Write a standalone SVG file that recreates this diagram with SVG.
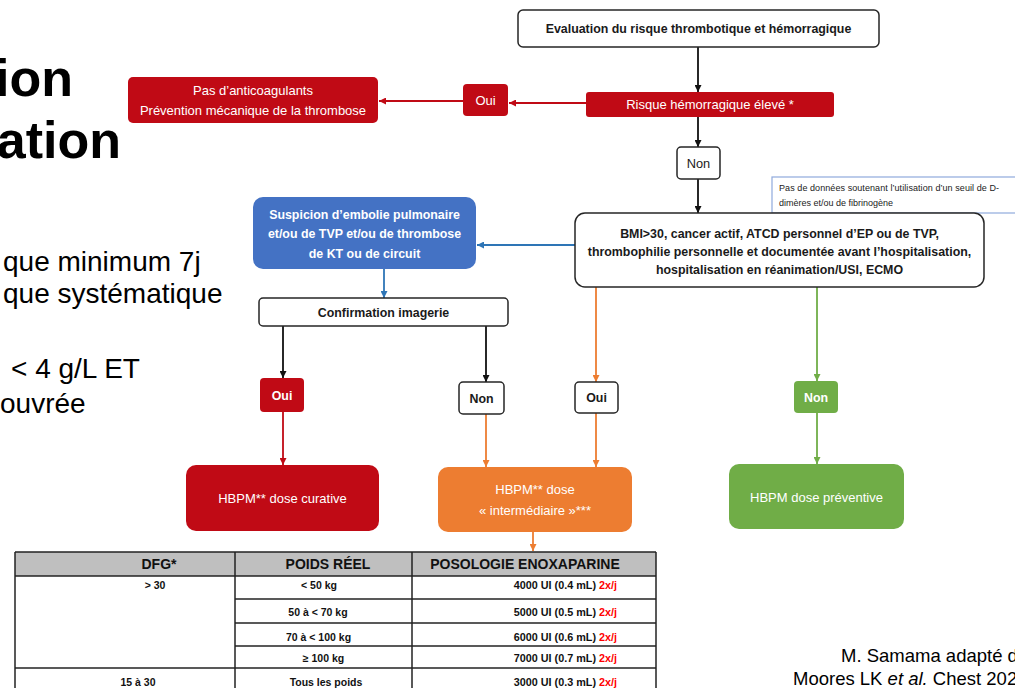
<svg xmlns="http://www.w3.org/2000/svg" width="1015" height="688" viewBox="0 0 1015 688">
<style>
text{font-family:"Liberation Sans",Arial,sans-serif}
.t{fill:#000}
.big{font-size:52px;font-weight:bold}
.body{font-size:28px}
.bl{font-size:12.4px;font-weight:bold;fill:#1a1a1a;text-anchor:middle}
.rg{font-size:13px;fill:#fff;text-anchor:middle}
.wb{font-size:12.4px;font-weight:bold;fill:#fff;text-anchor:middle}
.dk{font-size:12.8px;fill:#1a1a1a;text-anchor:middle}
.wbox{fill:#fff;stroke:#262626;stroke-width:1.5}
.red{fill:#C00A15}
.blue{fill:#4472C4}
.ora{fill:#ED7D31}
.grn{fill:#70AD47}
.cn{fill:none;stroke-width:1.8}
.th{font-size:14px;font-weight:bold;fill:#111;text-anchor:middle}
.td{font-size:10.5px;font-weight:bold;fill:#111;text-anchor:middle}
.tp{font-size:10.8px;font-weight:bold;fill:#111;text-anchor:end}
.r2{fill:#FF0000}
.tl{stroke:#222;stroke-width:1.5}
</style>
<defs>
<marker id="mk" viewBox="0 0 10 10" refX="10" refY="5" markerWidth="7" markerHeight="7" markerUnits="userSpaceOnUse" orient="auto"><path d="M0,0L10,5L0,10z" fill="#111"/></marker>
<marker id="mr" viewBox="0 0 10 10" refX="10" refY="5" markerWidth="7" markerHeight="7" markerUnits="userSpaceOnUse" orient="auto"><path d="M0,0L10,5L0,10z" fill="#C00A15"/></marker>
<marker id="mb" viewBox="0 0 10 10" refX="10" refY="5" markerWidth="7" markerHeight="7" markerUnits="userSpaceOnUse" orient="auto"><path d="M0,0L10,5L0,10z" fill="#2E75B6"/></marker>
<marker id="mo" viewBox="0 0 10 10" refX="10" refY="5" markerWidth="7" markerHeight="7" markerUnits="userSpaceOnUse" orient="auto"><path d="M0,0L10,5L0,10z" fill="#ED7D31"/></marker>
<marker id="mg" viewBox="0 0 10 10" refX="10" refY="5" markerWidth="7" markerHeight="7" markerUnits="userSpaceOnUse" orient="auto"><path d="M0,0L10,5L0,10z" fill="#70AD47"/></marker>
</defs>
<rect width="1015" height="688" fill="#fff"/>

<g id="slide-text">
<text class="t big" x="73" y="96" text-anchor="end">ion</text>
<text class="t big" x="121" y="158" text-anchor="end">ation</text>
<text class="t body" x="3" y="271">que minimum 7j</text>
<text class="t body" x="3" y="303">que systématique</text>
<text class="t body" x="11" y="378">&lt; 4 g/L ET</text>
<text class="t body" x="0" y="413">ouvrée</text>
<text class="t" x="841" y="662" font-size="18.5">M. Samama adapté d</text>
<text class="t" x="793" y="685" font-size="18.5">Moores LK <tspan font-style="italic">et al.</tspan> Chest 202</text>
</g>

<g id="connectors">
<line class="cn" stroke="#111" x1="698" y1="47" x2="698" y2="92" marker-end="url(#mk)"/>
<line class="cn" stroke="#C00A15" x1="586" y1="103" x2="509" y2="103" marker-end="url(#mr)"/>
<line class="cn" stroke="#C00A15" x1="463" y1="101" x2="379" y2="101" marker-end="url(#mr)"/>
<line class="cn" stroke="#111" x1="698" y1="117" x2="698" y2="147" marker-end="url(#mk)"/>
<line class="cn" stroke="#111" x1="698" y1="179" x2="698" y2="213" marker-end="url(#mk)"/>
<line class="cn" stroke="#2E75B6" x1="575" y1="245" x2="477" y2="245" marker-end="url(#mb)"/>
<line class="cn" stroke="#2E75B6" x1="384" y1="269" x2="384" y2="298" marker-end="url(#mb)"/>
<line class="cn" stroke="#111" x1="283" y1="326" x2="283" y2="378" marker-end="url(#mk)"/>
<line class="cn" stroke="#111" x1="486" y1="326" x2="486" y2="382" marker-end="url(#mk)"/>
<line class="cn" stroke="#C00A15" x1="283" y1="412" x2="283" y2="465" marker-end="url(#mr)"/>
<line class="cn" stroke="#ED7D31" x1="486" y1="414" x2="486" y2="467" marker-end="url(#mo)"/>
<line class="cn" stroke="#ED7D31" x1="596" y1="287" x2="596" y2="382" marker-end="url(#mo)"/>
<line class="cn" stroke="#ED7D31" x1="596" y1="413" x2="596" y2="467" marker-end="url(#mo)"/>
<line class="cn" stroke="#ED7D31" x1="533" y1="532" x2="533" y2="551" marker-end="url(#mo)"/>
<line class="cn" stroke="#70AD47" x1="817" y1="287" x2="817" y2="381" marker-end="url(#mg)"/>
<line class="cn" stroke="#70AD47" x1="817" y1="413" x2="817" y2="464" marker-end="url(#mg)"/>
</g>

<g id="n-eval"><rect class="wbox" x="518" y="10" width="361" height="37" rx="5"/><text class="bl" x="698.5" y="33">Evaluation du risque thrombotique et hémorragique</text></g>
<g id="n-risque"><rect class="red" x="586" y="92" width="248" height="25" rx="3"/><text class="rg" x="710" y="108.5">Risque hémorragique élevé *</text></g>
<g id="n-oui-top"><rect class="red" x="463" y="84" width="45" height="32" rx="4"/><text class="rg" x="485.5" y="104.5">Oui</text></g>
<g id="n-pas"><rect class="red" x="128" y="77" width="250" height="46" rx="5"/><text class="rg" x="253" y="94.5">Pas d’anticoagulants</text><text class="rg" x="253" y="114.5">Prévention mécanique de la thrombose</text></g>
<g id="n-non-top"><rect class="wbox" x="677" y="147" width="43" height="32" rx="4"/><text class="dk" x="698.5" y="167.5">Non</text></g>
<g id="n-note"><rect x="772" y="177" width="250" height="36" fill="#fff" stroke="#8FAADC" stroke-width="1.2"/><text x="779" y="191" font-size="9" fill="#222" textLength="220" lengthAdjust="spacing">Pas de données soutenant l’utilisation d’un seuil de D-</text><text x="779" y="206" font-size="9" fill="#222">dimères et/ou de fibrinogène</text></g>
<g id="n-bmi"><rect class="wbox" x="575" y="213" width="409" height="74" rx="10"/><text class="bl" x="779.5" y="237.5">BMI&gt;30, cancer actif, ATCD personnel d’EP ou de TVP,</text><text class="bl" x="779.5" y="256">thrombophilie personnelle et documentée avant l’hospitalisation,</text><text class="bl" x="779.5" y="273.5">hospitalisation en réanimation/USI,  ECMO</text></g>
<g id="n-suspicion"><rect class="blue" x="253" y="197" width="223" height="72" rx="10"/><text class="wb" x="364.5" y="218.5">Suspicion d’embolie pulmonaire</text><text class="wb" x="364.5" y="237.5">et/ou de TVP et/ou de thrombose</text><text class="wb" x="364.5" y="257.5">de KT ou de circuit</text></g>
<g id="n-confirm"><rect class="wbox" x="259" y="298" width="249" height="28" rx="4"/><text class="bl" x="383.5" y="316.5">Confirmation imagerie</text></g>
<g id="n-oui-red"><rect class="red" x="260" y="378" width="44" height="34" rx="4"/><text class="wb" x="282" y="399.5">Oui</text></g>
<g id="n-non-mid"><rect class="wbox" x="459" y="382" width="45" height="32" rx="4"/><text class="bl" x="481.5" y="402.5">Non</text></g>
<g id="n-oui-white"><rect class="wbox" x="575" y="382" width="43" height="31" rx="4"/><text class="bl" x="596.5" y="402">Oui</text></g>
<g id="n-non-green"><rect class="grn" x="794" y="381" width="44" height="32" rx="4"/><text class="wb" x="816" y="401.5">Non</text></g>
<g id="n-curative"><rect class="red" x="186" y="465" width="193" height="66" rx="10"/><text class="rg" x="282.5" y="502.5">HBPM** dose curative</text></g>
<g id="n-intermediaire"><rect class="ora" x="438" y="467" width="194" height="65" rx="10"/><text class="rg" x="535" y="493.5">HBPM** dose</text><text class="rg" x="535" y="514.5">« intermédiaire »***</text></g>
<g id="n-preventive"><rect class="grn" x="729" y="464" width="175" height="65" rx="10"/><text class="rg" x="816.5" y="501.5">HBPM dose préventive</text></g>

<g id="table">
<rect x="15" y="552" width="641" height="24" fill="#BFBFBF"/>
<rect x="15" y="576" width="641" height="120" fill="#fff"/>
<line class="tl" x1="15" y1="552" x2="656" y2="552"/>
<line class="tl" x1="15" y1="576" x2="656" y2="576"/>
<line class="tl" x1="235" y1="599" x2="656" y2="599"/>
<line class="tl" x1="235" y1="623" x2="656" y2="623"/>
<line class="tl" x1="235" y1="646" x2="656" y2="646"/>
<line class="tl" x1="15" y1="668" x2="656" y2="668"/>
<line class="tl" x1="15" y1="552" x2="15" y2="690"/>
<line class="tl" x1="235" y1="552" x2="235" y2="690"/>
<line class="tl" x1="412" y1="552" x2="412" y2="690"/>
<line class="tl" x1="656" y1="552" x2="656" y2="690"/>
<text class="th" x="159" y="569">DFG*</text>
<text class="th" x="328" y="569">POIDS RÉEL</text>
<text class="th" x="525" y="569" font-size="15">POSOLOGIE ENOXAPARINE</text>
<text class="td" x="155" y="589">&gt; 30</text>
<text class="td" x="138" y="686">15 à 30</text>
<text class="td" x="319" y="589">&lt; 50 kg</text>
<text class="td" x="318" y="616">50 à &lt; 70 kg</text>
<text class="td" x="318.5" y="641">70 à &lt; 100 kg</text>
<text class="td" x="323.5" y="662">≥ 100 kg</text>
<text class="td" x="326" y="686">Tous les poids</text>
<text class="tp" x="617" y="589">4000 UI (0.4 mL) <tspan class="r2">2x/j</tspan></text>
<text class="tp" x="617" y="616">5000 UI (0.5 mL) <tspan class="r2">2x/j</tspan></text>
<text class="tp" x="617" y="641">6000 UI (0.6 mL) <tspan class="r2">2x/j</tspan></text>
<text class="tp" x="617" y="662">7000 UI (0.7 mL) <tspan class="r2">2x/j</tspan></text>
<text class="tp" x="617" y="686">3000 UI (0.3 mL) <tspan class="r2">2x/j</tspan></text>
</g>
</svg>
